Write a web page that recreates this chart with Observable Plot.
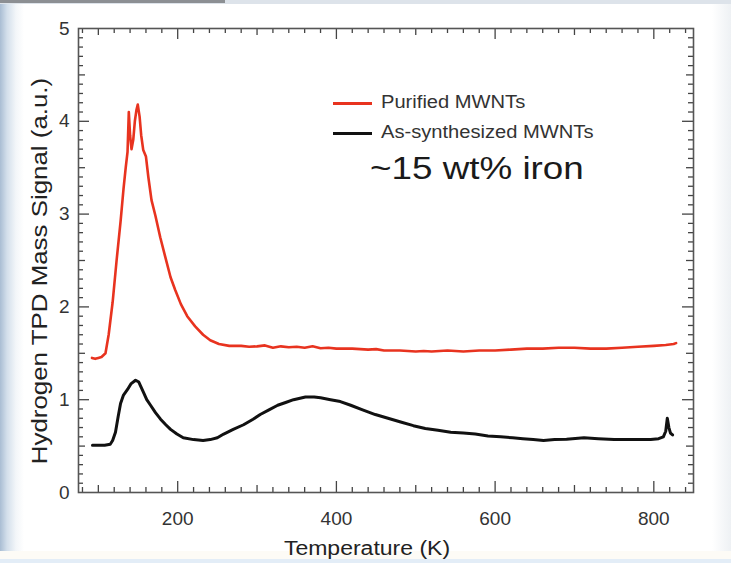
<!DOCTYPE html>
<html>
<head>
<meta charset="utf-8">
<script src="https://cdn.jsdelivr.net/npm/d3@7"></script>
<script src="https://cdn.jsdelivr.net/npm/@observablehq/plot@0.6"></script>
<style>
  html, body { margin: 0; padding: 0; }
  body { width: 731px; height: 563px; overflow: hidden; }
  #slide {
    position: relative; width: 731px; height: 563px; overflow: hidden;
    background:
      linear-gradient(to bottom, #8c8f93 0, #8c8f93 3px, transparent 3px) 0 0 / 225px 100% no-repeat,
      linear-gradient(to bottom, #dde3ea 0, #dde3ea 4px, transparent 4px),
      linear-gradient(to top, #e3edf7 0, #e3edf7 4px, #fdfbf6 4px, #fdfbf6 12px, transparent 12px),
      linear-gradient(to right, #a9bdd3 0, #d3dfeb 7px, #f3f6f9 16px, #ffffff 24px, #ffffff 712px, #eef1f4 731px);
    font-family: "Liberation Sans", Arial, Helvetica, sans-serif;
    color: #222;
  }
  #chart { position: absolute; left: 0; top: 0; }
  #chart svg { background: transparent; }
  .lbl { position: absolute; white-space: nowrap; line-height: 1; }
  .key { position: absolute; left: 333px; width: 39px; height: 2.5px; }
  .keytext { position: absolute; left: 381px; font-size: 17.5px; color: #333;
             transform: translateY(-50%) scaleX(1.15); transform-origin: left center; white-space: nowrap; line-height: 1; }
</style>
</head>
<body>
<div id="slide">
  <div id="chart"></div>
  <div class="key" style="top:102px; background:#e8331f;"></div>
  <div class="keytext" style="top:103px;">Purified MWNTs</div>
  <div class="key" style="top:132px; background:#111;"></div>
  <div class="keytext" style="top:133px;">As-synthesized MWNTs</div>
  <div class="lbl" style="left:370px; top:168px; font-size:32px; color:#1a1a1a; transform: translateY(-50%) scaleX(1.15); transform-origin: left center;">~15 wt% iron</div>
  <div class="lbl" style="left:367px; top:548px; font-size:20px; transform: translate(-50%,-50%) scaleX(1.15);">Temperature (K)</div>
  <div class="lbl" style="left:40px; top:271px; font-size:22.5px; transform: translate(-50%,-50%) rotate(-90deg) scaleX(1.15);">Hydrogen TPD Mass Signal (a.u.)</div>
</div>
<script>
// Purified MWNTs: temperature (K) and hydrogen signal (a.u.)
const purifiedT = [92, 96, 100, 104, 109, 113, 118, 123, 128, 131.7, 134.5, 136.8, 138.4, 140, 141.8, 144, 146, 148, 149.7, 152, 154, 156.6, 160, 163, 167, 172, 178, 184, 191, 197, 204, 212, 222, 232, 241, 252, 265, 280, 290, 300, 310, 320, 330, 340, 350, 360, 370, 380, 390, 400, 420, 440, 450, 460, 480, 500, 510, 520, 540, 560, 580, 600, 620, 640, 660, 680, 700, 720, 740, 760, 780, 800, 815, 825, 828];
const purifiedSignal = [1.45, 1.44, 1.45, 1.46, 1.50, 1.70, 2.05, 2.50, 2.92, 3.27, 3.50, 3.67, 4.10, 3.85, 3.70, 3.80, 4.00, 4.12, 4.18, 4.05, 3.85, 3.69, 3.62, 3.40, 3.15, 2.98, 2.75, 2.55, 2.32, 2.18, 2.03, 1.90, 1.79, 1.70, 1.64, 1.60, 1.58, 1.58, 1.57, 1.575, 1.585, 1.56, 1.575, 1.565, 1.57, 1.56, 1.575, 1.555, 1.56, 1.55, 1.55, 1.54, 1.545, 1.53, 1.53, 1.52, 1.525, 1.52, 1.53, 1.52, 1.53, 1.53, 1.54, 1.55, 1.55, 1.56, 1.56, 1.55, 1.55, 1.56, 1.57, 1.58, 1.59, 1.60, 1.61];

// As-synthesized MWNTs
const synthT = [92.6, 100, 108, 115, 118, 121.6, 125, 128, 131.7, 136.8, 141, 146.9, 151, 156.9, 161, 165.8, 172, 178.4, 185, 191, 199, 207, 220, 232, 241, 250, 258, 270, 283, 295, 304, 315, 326, 336, 346, 361, 372, 380, 392.6, 405, 418, 433, 449, 465, 481, 497, 512, 528, 544, 560, 575, 591, 607, 622, 635, 648, 661, 675, 690, 712, 730, 750, 775, 796, 806, 812, 815, 817, 819, 821, 823.6];
const synthSignal = [0.51, 0.51, 0.51, 0.52, 0.56, 0.65, 0.82, 0.96, 1.05, 1.11, 1.17, 1.21, 1.19, 1.08, 1.00, 0.94, 0.86, 0.79, 0.73, 0.68, 0.63, 0.59, 0.57, 0.56, 0.57, 0.59, 0.63, 0.68, 0.73, 0.79, 0.84, 0.89, 0.94, 0.97, 1.00, 1.03, 1.03, 1.02, 1.00, 0.98, 0.94, 0.89, 0.84, 0.80, 0.76, 0.72, 0.69, 0.67, 0.65, 0.64, 0.63, 0.61, 0.60, 0.59, 0.58, 0.57, 0.56, 0.57, 0.575, 0.59, 0.58, 0.57, 0.57, 0.57, 0.58, 0.60, 0.66, 0.80, 0.70, 0.64, 0.62];

// Axis labels
const xTickLabels = [200, 400, 600, 800];
const yTickLabels = [0, 1, 2, 3, 4, 5];

const purified = purifiedT.map((t, i) => ({t, v: purifiedSignal[i]}));
const synth = synthT.map((t, i) => ({t, v: synthSignal[i]}));

const W = 731, H = 563;
const mL = 78, mR = 38, mT = 28, mB = 71;
const innerW = W - mL - mR, innerH = H - mT - mB;

// Inward ticks: every 20 K along x, every 0.1 along y
const xMinor = d3.range(80, 850, 20);
const yMinor = d3.range(1, 50).map(i => i / 10);
const xLen = t => t % 200 === 0 ? 11 : (t % 100 === 0 ? 7 : 5);
const yLen = v => Math.abs(v - Math.round(v)) < 1e-9 ? 11 : (Math.abs(v * 2 - Math.round(v * 2)) < 1e-9 ? 7 : 5);

const tickStyle = {stroke: "#444", strokeWidth: 1.3};
const xTicks = (edge) => d3.groups(xMinor, xLen).map(([len, vals]) =>
  Plot.tickX(vals, {x: d => d, ...tickStyle, [edge === "bottom" ? "insetTop" : "insetBottom"]: innerH - len}));
const yTicks = (edge) => d3.groups(yMinor, yLen).map(([len, vals]) =>
  Plot.tickY(vals, {y: d => d, ...tickStyle, [edge === "left" ? "insetRight" : "insetLeft"]: innerW - len}));

const chart = Plot.plot({
  width: W, height: H,
  marginLeft: mL, marginRight: mR, marginTop: mT, marginBottom: mB,
  style: {fontFamily: "'Liberation Sans', Arial, Helvetica, sans-serif", fontSize: "19px", color: "#333", background: "transparent"},
  x: {domain: [75, 850]},
  y: {domain: [0, 5]},
  marks: [
    Plot.axisX(xTickLabels, {tickSize: 0, tickPadding: 19, label: null, fontSize: 19, tickFormat: d3.format("d")}),
    Plot.axisY(yTickLabels, {tickSize: 0, tickPadding: 9, label: null, fontSize: 19, tickFormat: d3.format("d")}),
    ...xTicks("bottom"), ...xTicks("top"),
    ...yTicks("left"), ...yTicks("right"),
    Plot.line(synth, {x: "t", y: "v", stroke: "#111", strokeWidth: 3, curve: "linear"}),
    Plot.line(purified, {x: "t", y: "v", stroke: "#e8331f", strokeWidth: 2.6, curve: "linear"}),
    Plot.frame({stroke: "#555", strokeWidth: 1.6})
  ]
});
document.getElementById("chart").appendChild(chart);
</script>
</body>
</html>
